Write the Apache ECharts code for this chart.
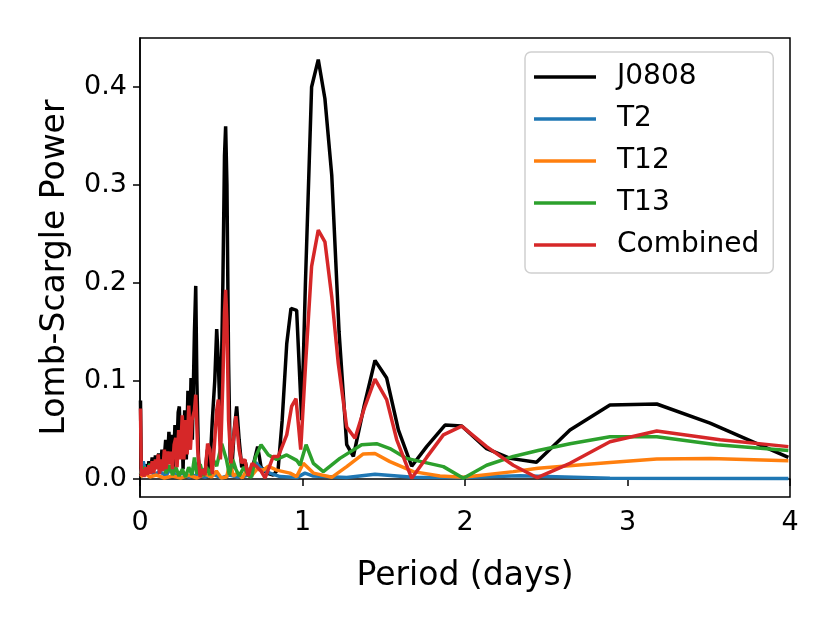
<!DOCTYPE html>
<html lang="en">
<head>
    <meta charset="UTF-8">
    <title>Lomb-Scargle</title>
    <script src="https://cdn.jsdelivr.net/npm/echarts@6/dist/echarts.min.js"></script>
    <style>
        html, body { margin: 0; padding: 0; background: #fff; }
    </style>
</head>
<body>
    <div id="chart" style="width: 830px; height: 623px;"></div>
<script>
    // [period (days), power]
    var j0808 = [
        [0.003,0.080],[0.008,0.005],[0.015,0.012],[0.025,0.004],[0.035,0.015],[0.045,0.006],[0.055,0.018],
        [0.065,0.008],[0.075,0.022],[0.085,0.010],[0.095,0.024],[0.105,0.012],[0.115,0.026],[0.125,0.008],
        [0.135,0.030],[0.145,0.012],[0.158,0.040],[0.168,0.015],[0.178,0.048],[0.188,0.020],[0.198,0.045],
        [0.206,0.012],[0.215,0.055],[0.225,0.020],[0.235,0.068],[0.242,0.074],[0.250,0.030],[0.258,0.060],
        [0.265,0.010],[0.275,0.070],[0.285,0.020],[0.295,0.090],[0.305,0.030],[0.314,0.103],[0.322,0.040],
        [0.335,0.150],[0.343,0.197],[0.350,0.100],[0.360,0.020],[0.370,0.003],[0.385,0.010],[0.400,0.005],
        [0.415,0.030],[0.430,0.010],[0.445,0.060],[0.460,0.100],[0.472,0.153],[0.482,0.120],[0.495,0.050],
        [0.510,0.200],[0.520,0.330],[0.527,0.360],[0.535,0.300],[0.545,0.120],[0.555,0.020],[0.565,0.010],
        [0.580,0.050],[0.595,0.074],[0.610,0.040],[0.626,0.012],[0.646,0.019],[0.667,0.003],[0.690,0.010],
        [0.705,0.020],[0.724,0.033],[0.745,0.012],[0.780,0.006],[0.820,0.004],[0.850,0.010],[0.875,0.060],
        [0.903,0.138],[0.929,0.174],[0.964,0.172],[0.995,0.060],[1.018,0.200],[1.056,0.400],[1.097,0.428],
        [1.138,0.388],[1.180,0.310],[1.225,0.150],[1.272,0.035],[1.313,0.023],[1.380,0.075],[1.446,0.121],
        [1.518,0.103],[1.590,0.050],[1.672,0.013],[1.764,0.033],[1.877,0.055],[1.980,0.054],[2.133,0.031],
        [2.277,0.021],[2.440,0.017],[2.646,0.050],[2.892,0.0755],[3.180,0.0765],[3.508,0.057],[3.990,0.022]
    ];
    var t2 = [
        [0.003,0.005],[0.020,0.018],[0.035,0.006],[0.060,0.010],[0.090,0.004],[0.120,0.008],[0.160,0.003],
        [0.190,0.012],[0.220,0.003],[0.260,0.006],[0.300,0.002],[0.350,0.004],[0.400,0.002],[0.450,0.005],
        [0.500,0.001],[0.550,0.004],[0.600,0.002],[0.650,0.003],[0.690,0.010],[0.712,0.017],[0.750,0.010],
        [0.800,0.006],[0.862,0.0024],[0.964,0.0014],[1.015,0.006],[1.067,0.003],[1.272,0.0014],[1.446,0.0048],
        [1.680,0.0017],[1.990,0.0014],[2.338,0.0034],[2.892,0.0007],[3.990,0.0005]
    ];
    var t12 = [
        [0.003,0.002],[0.030,0.006],[0.060,0.002],[0.100,0.004],[0.150,0.001],[0.200,0.003],[0.250,0.001],
        [0.300,0.004],[0.350,0.001],[0.400,0.005],[0.440,0.002],[0.470,0.008],[0.500,0.001],[0.533,0.002],
        [0.554,0.016],[0.575,0.003],[0.600,0.006],[0.630,0.001],[0.660,0.010],[0.690,0.004],[0.720,0.010],
        [0.760,0.009],[0.790,0.013],[0.841,0.009],[0.923,0.006],[0.964,0.0024],[1.005,0.016],[1.067,0.006],
        [1.180,0.0017],[1.272,0.0126],[1.374,0.0255],[1.446,0.026],[1.538,0.0177],[1.682,0.0075],
        [1.846,0.003],[1.990,0.0017],[2.297,0.0075],[2.450,0.011],[2.892,0.0167],[3.180,0.0204],
        [3.510,0.021],[3.990,0.0187]
    ];
    var t13 = [
        [0.003,0.005],[0.020,0.012],[0.040,0.008],[0.060,0.015],[0.080,0.010],[0.100,0.018],[0.120,0.010],
        [0.140,0.016],[0.160,0.006],[0.180,0.014],[0.200,0.004],[0.220,0.012],[0.240,0.003],[0.260,0.010],
        [0.280,0.002],[0.300,0.012],[0.320,0.004],[0.335,0.022],[0.350,0.005],[0.370,0.015],[0.390,0.003],
        [0.410,0.012],[0.430,0.004],[0.450,0.020],[0.472,0.013],[0.503,0.036],[0.533,0.019],[0.550,0.004],
        [0.570,0.020],[0.590,0.010],[0.610,0.003],[0.640,0.012],[0.670,0.003],[0.687,0.002],[0.710,0.022],
        [0.745,0.035],[0.790,0.0245],[0.841,0.020],[0.903,0.0245],[0.964,0.019],[0.985,0.014],[1.022,0.035],
        [1.067,0.016],[1.128,0.0075],[1.230,0.021],[1.364,0.035],[1.456,0.036],[1.538,0.031],[1.641,0.021],
        [1.867,0.0126],[1.990,0.0007],[2.133,0.014],[2.297,0.023],[2.450,0.029],[2.646,0.036],[2.892,0.043],
        [3.180,0.043],[3.550,0.035],[3.990,0.029]
    ];
    var combined = [
        [0.003,0.072],[0.008,0.003],[0.015,0.010],[0.025,0.002],[0.035,0.012],[0.045,0.004],[0.055,0.014],
        [0.065,0.005],[0.075,0.018],[0.085,0.006],[0.095,0.020],[0.105,0.010],[0.112,0.025],[0.120,0.005],
        [0.130,0.020],[0.140,0.008],[0.150,0.030],[0.160,0.010],[0.170,0.028],[0.180,0.015],[0.191,0.028],
        [0.200,0.010],[0.210,0.035],[0.220,0.042],[0.228,0.012],[0.238,0.050],[0.248,0.020],[0.260,0.065],
        [0.270,0.020],[0.280,0.060],[0.290,0.025],[0.300,0.075],[0.310,0.030],[0.320,0.060],[0.335,0.070],
        [0.343,0.086],[0.355,0.030],[0.370,0.002],[0.385,0.010],[0.400,0.004],[0.416,0.036],[0.430,0.030],
        [0.445,0.005],[0.460,0.040],[0.472,0.070],[0.482,0.081],[0.495,0.020],[0.510,0.100],[0.520,0.170],
        [0.527,0.193],[0.535,0.160],[0.545,0.060],[0.560,0.016],[0.575,0.040],[0.590,0.064],[0.610,0.030],
        [0.626,0.016],[0.645,0.020],[0.665,0.003],[0.690,0.016],[0.718,0.0126],[0.745,0.008],[0.770,0.001],
        [0.820,0.023],[0.851,0.023],[0.903,0.045],[0.933,0.074],[0.960,0.082],[0.989,0.030],[1.020,0.120],
        [1.056,0.217],[1.097,0.254],[1.138,0.242],[1.180,0.186],[1.220,0.118],[1.272,0.053],[1.323,0.0415],
        [1.380,0.072],[1.446,0.102],[1.518,0.081],[1.580,0.040],[1.672,0.0007],[1.764,0.022],[1.867,0.045],
        [1.980,0.054],[2.133,0.033],[2.297,0.014],[2.445,0.0013],[2.646,0.016],[2.892,0.038],[3.180,0.049],
        [3.570,0.040],[3.990,0.033]
    ];
    var yTicks = [0, 0.1, 0.2, 0.3, 0.4];

    var font = 'DejaVu Sans';
    var chart = echarts.init(document.getElementById('chart'));

    function line(name, data, color) {
        return {
            name: name,
            type: 'line',
            data: data,
            showSymbol: false,
            symbol: 'none',
            lineStyle: {color: color, width: 3.5},
            itemStyle: {color: color},
            emphasis: {disabled: true}
        };
    }

    chart.setOption({
        animation: false,
        backgroundColor: '#fff',
        grid: {
            left: 140, right: 40, top: 38, bottom: 126,
            show: true, borderColor: '#000', borderWidth: 1.5,
            containLabel: false, outerBoundsMode: 'none'
        },
        legend: {
            orient: 'vertical',
            left: 525, top: 52,
            padding: [11, 14, 14, 9],
            itemWidth: 62, itemHeight: 3.5, itemGap: 14,
            icon: 'rect',
            backgroundColor: '#fff',
            borderColor: '#d0d0d0', borderWidth: 1.5, borderRadius: 6,
            textStyle: {fontFamily: font, fontSize: 28, color: '#000', lineHeight: 28, padding: [0, 0, 0, 16]},
            data: ['J0808', 'T2', 'T12', 'T13', 'Combined']
        },
        xAxis: {
            type: 'value', min: 0, max: 4, interval: 1,
            name: 'Period (days)', nameLocation: 'middle', nameGap: 63,
            nameTextStyle: {fontFamily: font, fontSize: 33, color: '#000'},
            axisLine: {lineStyle: {color: '#000', width: 1.5}},
            axisTick: {inside: false, length: 7, lineStyle: {color: '#000', width: 1.5}},
            axisLabel: {fontFamily: font, fontSize: 27, color: '#000', margin: 12},
            splitLine: {show: false}
        },
        yAxis: {
            type: 'value', min: -0.0184, max: 0.450,
            name: 'Lomb-Scargle Power', nameLocation: 'middle', nameGap: 68, nameRotate: 90,
            nameTextStyle: {fontFamily: font, fontSize: 33, color: '#000'},
            axisLine: {onZero: false, lineStyle: {color: '#000', width: 1.5}},
            axisTick: {inside: false, length: 7, customValues: yTicks, lineStyle: {color: '#000', width: 1.5}},
            axisLabel: {
                fontFamily: font, fontSize: 27, color: '#000', margin: 13,
                customValues: yTicks,
                formatter: function (v) { return v.toFixed(1); }
            },
            splitLine: {show: false}
        },
        series: [
            line('J0808', j0808, '#000000'),
            line('T2', t2, '#1f77b4'),
            line('T12', t12, '#ff7f0e'),
            line('T13', t13, '#2ca02c'),
            line('Combined', combined, '#d62728')
        ]
    });
    window.onresize = chart.resize;
</script>
</body>
</html>
